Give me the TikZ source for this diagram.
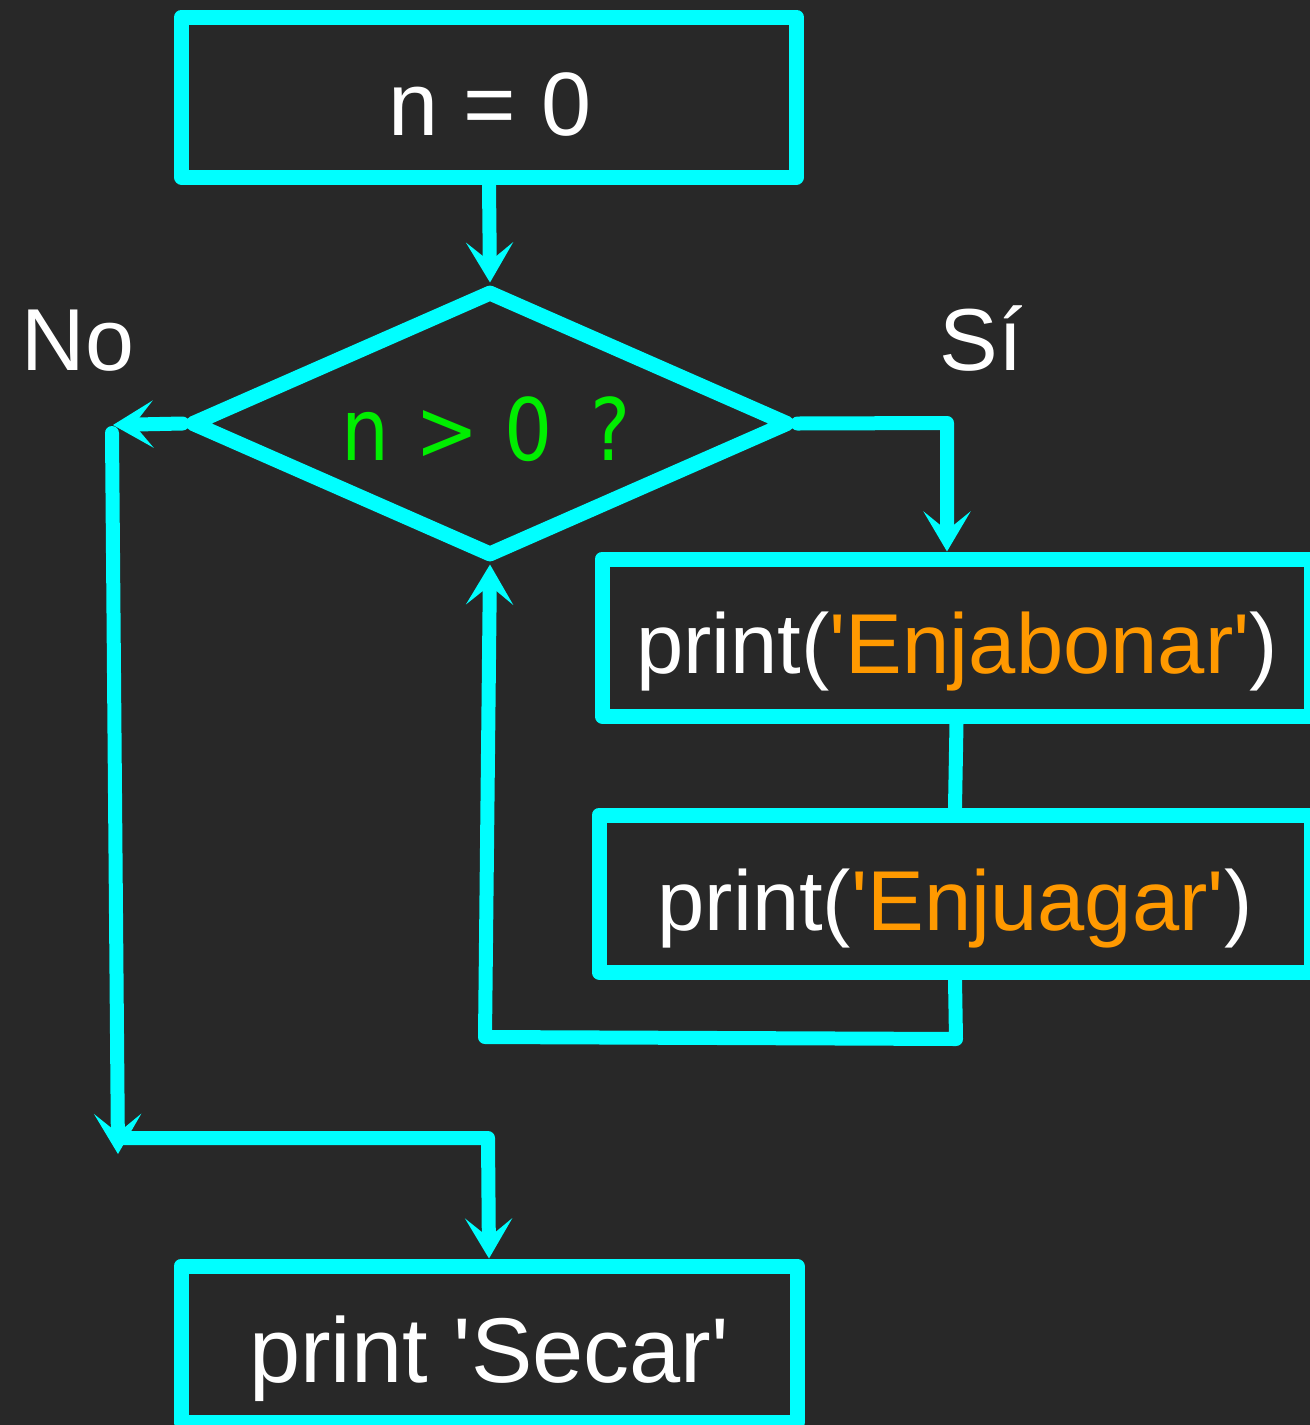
\documentclass[tikz,border=0pt]{standalone}
\usepackage{fontspec}
\setmainfont{Liberation Sans}
\newfontfamily\monof[FakeStretch=0.88]{DejaVu Sans}
\usetikzlibrary{shapes.geometric,arrows.meta}
\definecolor{bg}{HTML}{282828}
\definecolor{cy}{HTML}{00FFFF}
\definecolor{gr}{HTML}{00EE00}
\definecolor{orng}{HTML}{FF9900}
\tikzset{
  box/.style={draw=cy, line width=7.5pt, line join=round, inner sep=0pt, rectangle},
  dia/.style={draw=cy, line width=7.5pt, line join=round, diamond, inner sep=0pt,
    minimum width=300pt, minimum height=133.5pt},
  conn/.style={draw=cy, line width=7pt, line cap=round, line join=round},
  arr/.style={conn, -{Stealth[length=20pt,width=23.5pt,inset=9.5pt]}},
  lbl/.style={text=white, inner sep=0pt, anchor=base},
}
\newcommand{\szA}{\fontsize{45pt}{54pt}\selectfont}
\newcommand{\szB}{\fontsize{42.5pt}{51pt}\selectfont}
\newcommand{\szC}{\fontsize{46pt}{55pt}\selectfont}
\newcommand{\szD}{\fontsize{44pt}{53pt}\selectfont}
\newcommand{\szM}{\fontsize{43pt}{52pt}\selectfont}
\newcommand{\mc}[1]{\makebox[20.5pt]{#1}}
\newcommand{\q}{\textquotesingle}
\begin{document}
\begin{tikzpicture}[x=0.5pt,y=-0.5pt]
\fill[bg] (0,0) rectangle (1310,1425);
\useasboundingbox (0,0) rectangle (1310,1425);
% boxes
\node[box, minimum width=307.5pt, minimum height=80pt] (b1) at (489,97) {};
\node[dia] (d) at (490,423.5) {};
\node[box, minimum width=354.5pt, minimum height=78.5pt] (b2) at (956.5,637.5) {};
\node[box, minimum width=356pt, minimum height=78.5pt] (b3) at (955,893.5) {};
\node[box, minimum width=308pt, minimum height=78pt] (b4) at (489,1344) {};
% texts
\node[lbl] (t1) at (490,135) {\szA n = 0};
\node[lbl, text=gr] (td) at (488,460) {\monof\szM\mc{n}\mc{ }\mc{>}\mc{ }\mc{0}\mc{ }\mc{?}};
\node[lbl] (t2) at (957,673) {\szB print(\textcolor{orng}{\q Enjabonar\q})};
\node[lbl] (t3) at (955,930) {\szB print(\textcolor{orng}{\q Enjuagar\q})};
\node[lbl] (t4) at (489,1382) {\szC print \q Secar\q};
\node[lbl] (no) at (78,370) {\szD No};
\node[lbl] (si) at (981,370) {\szD Sí};
% helper coordinates
\coordinate (cL) at (113,425);
\coordinate (vTop) at (112,433);
\coordinate (vBot) at (118,1154);
\coordinate (hL) at (118,1138);
\coordinate (hR) at (488,1138);
\coordinate (rC) at (947,423);
\coordinate (lbR) at (956,1039);
\coordinate (lbL) at (485,1037);
% connectors
\draw[arr] (b1.south) -- (d.north);
\draw[arr] (d.west) -- (cL);
\draw[arr] (vTop) -- (vBot);
\draw[arr] (hL) -- (hR) -- (b4.north);
\draw[arr] (d.east) -- (rC) -- (b2.north -| rC);
\draw[conn] (b2.south) -- (b3.north);
\draw[arr] (b3.south) -- (lbR) -- (lbL) -- (d.south);
\end{tikzpicture}
\end{document}
